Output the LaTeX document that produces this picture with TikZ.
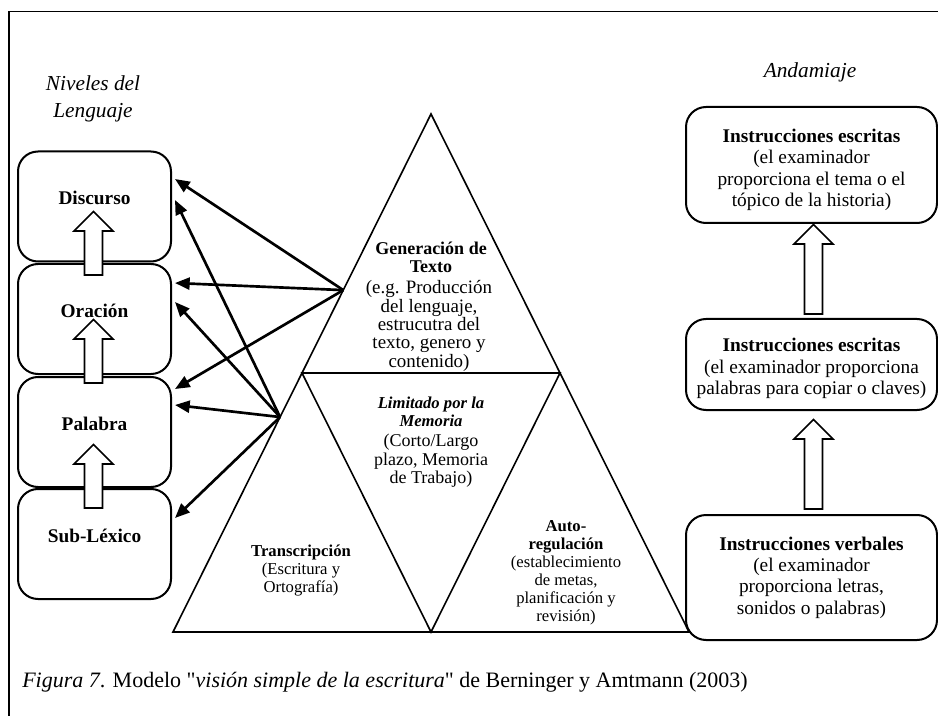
\documentclass[tikz,border=0pt]{standalone}
\usepackage{fontspec}
\setmainfont{Liberation Serif}[Ligatures=TeXOff]
\usetikzlibrary{arrows.meta,calc}

\tikzset{
  frame/.style={line width=1.4pt},
  lbox/.style={draw, line width=1.5pt, rounded corners=15pt, fill=white,
    minimum width=114.75pt, minimum height=82.5pt, inner sep=0pt,
    font=\fontsize{14.5}{16}\selectfont\bfseries,
    text height=10pt, text depth=12.8pt},
  rbox/.style={draw, line width=1.5pt, rounded corners=15pt, fill=white,
    minimum width=188.25pt, inner sep=0pt},
  rtext/.style={align=center, inner sep=0pt,
    font=\fontsize{14.5}{16}\selectfont},
  tri/.style={line width=1.2pt, line join=miter},
  tritext/.style={align=center, inner sep=0pt,
    font=\fontsize{12.5}{13.5}\selectfont},
  heading/.style={align=center, inner sep=0pt,
    font=\fontsize{16}{20.25}\selectfont\itshape},
  conn/.style={line width=2pt, -{Triangle[length=11pt,width=9pt]}},
  blockarrow/.style={draw, fill=white, line width=1.2pt, line join=miter},
  pics/blockup/.style={code={
    \path[blockarrow] (-9,0) -- (-9,-#1) -- (-19.5,-#1) -- (0,-#1-19.5)
      -- (19.5,-#1) -- (9,-#1) -- (9,0) -- cycle;}}
}

\begin{document}
\begin{tikzpicture}[x=0.75pt,y=-0.75pt]
\useasboundingbox (0,0) rectangle (938,716);

% open frame: top and left rules
\draw[frame] (9,716) -- (9,11.5) -- (938,11.5);

% headings
\node[heading] (niveles) at (93,98.5) {Niveles del\\Lenguaje};
\node[heading] (andamiaje) at (810,72) {Andamiaje};

% language levels
\node[lbox] (disc) at (94.5,206.5) {Discurso};
\node[lbox] (orac) at (94.5,319) {Oración};
\node[lbox] (pal)  at (94.5,432) {Palabra};
\node[lbox] (sub)  at (94.5,544) {Sub-Léxico};

\pic (la1) at ($(orac.north)+(-1,12)$) {blockup=44};
\pic (la2) at ($(pal.north)+(-1,7)$) {blockup=44};
\pic (la3) at ($(sub.north)+(-1,20)$) {blockup=44};

% scaffolding
\node[rbox, minimum height=87pt,
  label={[rtext, name=r1t, yshift=-3.75pt]center:{\textbf{Instrucciones escritas}\\(el examinador\\proporciona el tema o el\\tópico de la historia)}}]
  (r1) at (811.5,165) {};
\node[rbox, minimum height=68.25pt,
  label={[rtext, name=r2t, yshift=-3pt]center:{\textbf{Instrucciones escritas}\\(el examinador proporciona\\palabras para copiar o claves)}}]
  (r2) at (811.5,364.5) {};
\node[rbox, minimum height=93.75pt,
  label={[rtext, name=r3t]center:{\textbf{Instrucciones verbales}\\(el examinador\\proporciona letras,\\sonidos o palabras)}}]
  (r3) at (811.5,577.5) {};

\pic (ra1) at ($(r2.north)+(2,-4)$) {blockup=70};
\pic (ra2) at ($(r3.north)+(2,-5)$) {blockup=70};

% triangle of writing processes
\coordinate (apex) at (431,114);
\coordinate (bl) at (173,632);
\coordinate (br) at (689,632);
\coordinate (ml) at ($(apex)!0.5!(bl)$);
\coordinate (mr) at ($(apex)!0.5!(br)$);
\coordinate (mb) at ($(bl)!0.5!(br)$);
\draw[tri] (apex) -- (bl) -- (br) -- cycle;
\draw[tri] (ml) -- (mr) -- (mb) -- cycle;

\node[tritext, font=\fontsize{13.5}{13.5}\selectfont\bfseries] (gen) at (431,257)
  {Generación de\\Texto};
\node[tritext, font=\fontsize{14.2}{13.8}\selectfont] (genb) at (429,326)
  {(e.g. Producción\\del lenguaje,\\estrucutra del\\texto, genero y\\contenido)};
\node[tritext, font=\fontsize{12.5}{13.5}\selectfont\bfseries\itshape] (mem) at (431,411.5)
  {Limitado por la\\Memoria};
\node[tritext, font=\fontsize{13.5}{13.9}\selectfont] (memb) at (431,461)
  {(Corto/Largo\\plazo, Memoria\\de Trabajo)};
\node[tritext] (trans) at (301,571)
  {\textbf{Transcripción}\\(Escritura y\\Ortografía)};
\node[tritext] (auto) at (566,573)
  {\textbf{Auto-}\\\textbf{regulación}\\(establecimiento\\de metas,\\planificación y\\revisión)};

% links from the triangle to the language levels
\coordinate (up) at ($(apex)!0.34!(bl)$);
\coordinate (lo) at ($(apex)!0.585!(bl)$);
\draw[conn] (up) -- ($(disc.east)+(3,-27.5)$);
\draw[conn] (up) -- ($(orac.east)+(3,-36)$);
\draw[conn] (up) -- ($(pal.east)+(3,-43)$);
\draw[conn] (lo) -- ($(disc.east)+(3,-6.5)$);
\draw[conn] (lo) -- ($(orac.east)+(3,-17)$);
\draw[conn] (lo) -- ($(pal.east)+(3,-27)$);
\draw[conn] (lo) -- ($(sub.east)+(3,-26)$);

% caption
\node[anchor=base west, inner sep=0pt, font=\fontsize{16.5}{19}\selectfont] (cap) at (22,687)
  {\textit{Figura 7}. Modelo "\textit{visión simple de la escritura}" de Berninger y Amtmann (2003)};
\end{tikzpicture}
\end{document}
